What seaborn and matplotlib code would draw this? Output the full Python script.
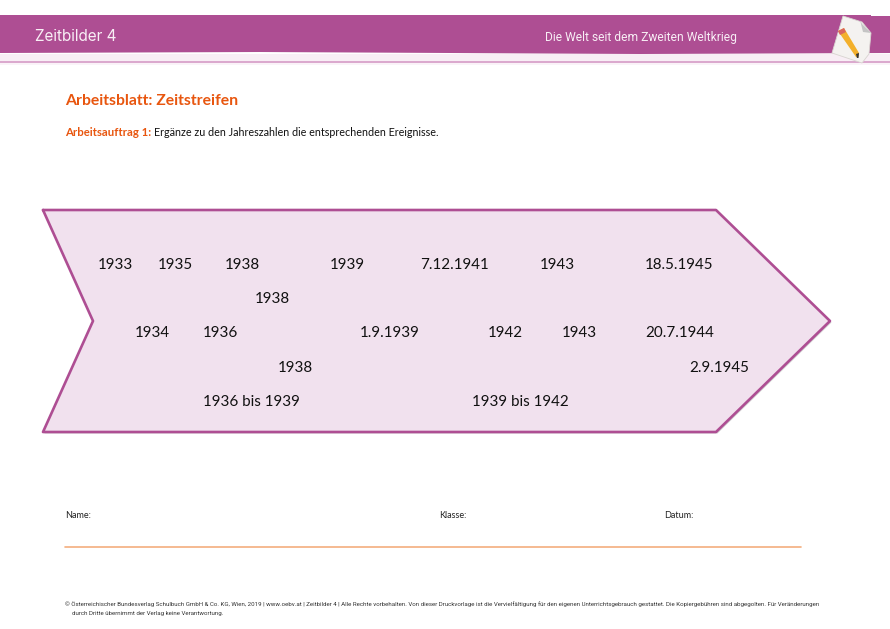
import matplotlib
matplotlib.use('Agg')
import matplotlib.pyplot as plt
import pandas as pd
import seaborn as sns

# date labels on the arrow (left edge and vertical centre in page pixels)
date_labels = ['1933', '1935', '1938', '1939', '7.12.1941', '1943', '18.5.1945',
               '1938',
               '1934', '1936', '1.9.1939', '1942', '1943', '20.7.1944',
               '1938', '2.9.1945',
               '1936 bis 1939', '1939 bis 1942']
date_x = [97.5, 157.5, 225, 330, 420, 540, 645,
          255,
          135, 203, 360, 487.5, 562, 645,
          277.5, 689.5,
          203, 472.5]
date_y = [265, 265, 265, 265, 265, 265, 265,
          299,
          333, 333, 333, 333, 333, 333,
          368, 368,
          402, 402]

arrow_x = [43, 716, 830, 716, 43, 93, 43]
arrow_y = [210, 210, 321, 432, 432, 321, 210]

form_labels = ['Name:', 'Klasse:', 'Datum:']
form_x = [65.5, 439.5, 664.5]

PURPLE = '#AE4E93'
ORANGE = '#E8560F'
FONT = 'Lato'

sns.set_theme(style='white')
fig = plt.figure(figsize=(8.9, 6.29), dpi=100)
ax = fig.add_axes([0, 0, 1, 1])
ax.set_xlim(0, 890)
ax.set_ylim(629, 0)
ax.axis('off')

# header band
ax.fill([0, 871, 871, 890, 890, 640, 260, 260, 0],
        [15, 15, 16, 16, 53, 54, 52, 52, 53], color=PURPLE, lw=0, zorder=1)
ax.fill([0, 890, 890, 0], [54, 54, 61, 61], color='#F8EEF5', lw=0, zorder=1)
ax.fill([0, 890, 890, 0], [61, 61, 63, 63], color='#DBA9CE', lw=0, zorder=1)
ax.fill([0, 890, 890, 0], [63, 63, 65, 65], color='#FAF3F8', lw=0, zorder=1)
ax.text(35, 36.5, 'Zeitbilder 4', color='#F8EEF5', fontsize=11, family='Inter', va='center')
ax.text(545, 37.5, 'Die Welt seit dem Zweiten Weltkrieg', color='#F8EEF5', fontsize=8.65,
        family='Roboto', va='center')

# note and pencil icon
ax.fill([843, 862, 871, 869, 862, 832], [16, 22, 33, 54, 63, 53], color='#F4F2F0',
        ec='#D8D4D0', lw=0.6, zorder=2)
ax.fill([860, 862, 871, 863], [20, 24, 33, 32], color='#C4C4C4', lw=0, zorder=3)
ax.fill([838, 844, 859, 858, 856], [31, 28, 53, 58, 57], color='#F3B02B', lw=0, zorder=3)
ax.fill([838, 844, 846, 840], [31, 28, 32, 35], color='#D9655F', lw=0, zorder=4)
ax.fill([856, 859, 858.5, 857], [54, 53, 58, 58], color='#333333', lw=0, zorder=4)

# headings
ax.text(65, 101, 'Arbeitsblatt: Zeitstreifen', color=ORANGE, fontsize=11.35, family=FONT,
        weight='bold', va='center')
ax.text(65, 133, 'Arbeitsauftrag 1:', color=ORANGE, fontsize=8.2, family=FONT,
        weight='bold', va='center')
ax.text(154, 133, 'Ergänze zu den Jahreszahlen die entsprechenden Ereignisse.', color='#111111',
        fontsize=7.75, family=FONT, va='center')

# arrow
ax.fill([x + 1.5 for x in arrow_x], [y + 1.5 for y in arrow_y], color='#999999', alpha=0.45,
        lw=0, zorder=2)
ax.fill(arrow_x, arrow_y, color='#F1E1EE', lw=0, zorder=3)
outline = pd.DataFrame({'x': arrow_x, 'y': arrow_y})
sns.lineplot(data=outline, x='x', y='y', sort=False, estimator=None, color=PURPLE, lw=1.9,
             solid_joinstyle='round', solid_capstyle='round', zorder=4, ax=ax)

for label, x, y in zip(date_labels, date_x, date_y):
    ax.text(x, y, label, color='#111111', fontsize=10.9, family=FONT, va='center', zorder=5)

# name line
for label, x in zip(form_labels, form_x):
    ax.text(x, 515, label, color='#222222', fontsize=6.5, family=FONT, va='center')
rule = pd.DataFrame({'x': [65, 801], 'y': [547, 547]})
sns.lineplot(data=rule, x='x', y='y', color='#F4AE7E', lw=1.2, ax=ax)

# footer
ax.text(65, 604.5, '© Österreichischer Bundesverlag Schulbuch GmbH & Co. KG, Wien, 2019 | www.oebv.at | '
        'Zeitbilder 4 | Alle Rechte vorbehalten. Von dieser Druckvorlage ist die Vervielfältigung '
        'für den eigenen Unterrichtsgebrauch gestattet. Die Kopiergebühren sind abgegolten. '
        'Für Veränderungen', color='#333333', fontsize=4.4, family='Roboto', va='center')
ax.text(72, 613.5, 'durch Dritte übernimmt der Verlag keine Verantwortung.', color='#333333',
        fontsize=4.4, family='Roboto', va='center')

ax.set_xlim(0, 890)
ax.set_ylim(629, 0)
ax.axis('off')
fig.savefig('out.png', dpi=100)
